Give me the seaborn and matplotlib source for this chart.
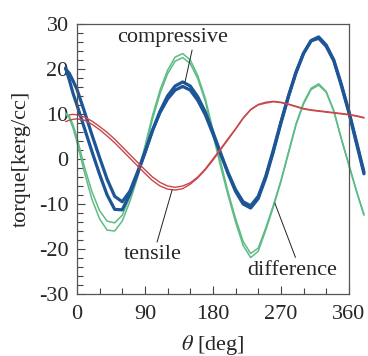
import matplotlib
matplotlib.use("Agg")
import matplotlib.pyplot as plt
import numpy as np
import pandas as pd
import seaborn as sns
from matplotlib.ticker import MultipleLocator

# angle grid [deg]
theta = [-15, -10, -5, 0, 10, 20, 30, 40, 50, 60, 70, 80, 90, 100, 110, 120,
         130, 140, 150, 160, 170, 180, 190, 200, 210, 220, 230, 240, 250, 260,
         270, 280, 290, 300, 310, 320, 330, 340, 350, 360, 370, 380]

# compressive (two scans)
compressive_a = [20.0, 19.0, 17.3, 15.5, 10.5, 5.3, 0.3, -4.5, -8.3, -9.5, -7.2,
                 -3.0, 1.5, 6.3, 10.3, 13.3, 15.3, 16.1, 15.3, 13.0, 9.8, 5.6,
                 1.2, -3.0, -6.8, -9.5, -10.4, -8.3, -3.8, 2.0, 8.2, 14.0, 19.3,
                 23.5, 26.2, 26.8, 25.0, 21.8, 16.3, 10.3, 3.5, -3.3]
compressive_b = [20.2, 17.5, 14.5, 12.0, 6.8, 1.6, -3.4, -8.0, -11.2, -11.3, -7.8,
                 -3.4, 1.3, 6.3, 10.6, 14.0, 16.2, 17.1, 16.2, 13.8, 10.4, 6.0,
                 1.4, -3.2, -7.2, -10.0, -10.9, -8.8, -4.2, 1.6, 7.9, 13.8, 19.1,
                 23.4, 26.3, 27.1, 25.3, 22.0, 16.6, 10.6, 3.9, -2.9]

# difference (two scans)
difference_a = [10.2, 9.5, 7.5, 4.8, -1.8, -7.3, -11.5, -13.8, -14.2, -12.5, -8.5,
                -3.5, 2.8, 9.6, 15.3, 19.7, 22.6, 23.4, 22.0, 18.5, 13.4, 6.5,
                -0.5, -7.3, -13.2, -18.3, -21.0, -19.8, -15.3, -10.3, -4.8, 1.5,
                7.8, 12.5, 15.7, 16.7, 15.0, 10.8, 4.6, -1.2, -7.0, -12.3]
difference_b = [10.0, 9.0, 6.8, 3.8, -3.0, -9.0, -13.3, -15.8, -16.0, -13.8, -9.5,
                -4.3, 2.0, 8.8, 14.5, 18.9, 21.7, 22.5, 21.2, 17.8, 12.8, 5.5,
                -1.5, -8.0, -14.0, -19.2, -21.9, -20.5, -15.8, -10.7, -5.1, 1.2,
                7.5, 12.2, 15.4, 16.4, 14.8, 10.6, 4.4, -1.4, -7.2, -12.5]

# tensile (two scans)
tensile_a = [np.nan, 9.8, 9.9, 9.8, 9.3, 8.4, 7.2, 5.9, 4.4, 2.7, 1.0, -0.7, -2.4,
             -4.0, -5.2, -6.0, -6.3, -6.0, -5.3, -4.0, -2.2, 0.0, 2.2, 4.5, 6.7,
             9.1, 11.0, 12.1, 12.6, 12.8, 12.6, 12.2, 11.7, 11.2, 10.9, 10.7,
             10.5, 10.3, 10.1, 9.9, 9.6, 9.2]
tensile_b = [8.3, 8.6, 8.8, 8.9, 8.6, 7.7, 6.5, 5.1, 3.6, 1.9, 0.2, -1.5, -3.2,
             -4.8, -6.0, -6.7, -6.9, -6.6, -5.6, -4.2, -2.4, -0.3, 2.0, 4.3, 6.6,
             9.0, 10.9, 12.0, 12.4, 12.7, 12.5, 12.1, 11.6, 11.1, 10.8, 10.6,
             10.4, 10.2, 10.0, 9.8, 9.5, 9.1]

x_ticks = [0, 90, 180, 270, 360]
y_ticks = [-30, -20, -10, 0, 10, 20, 30]

BLUE = "#1d5597"
GREEN = "#5dbb85"
RED = "#c8474a"

sns.set_style("ticks")
plt.rcParams["font.family"] = ["Liberation Serif", "DejaVu Serif"]
plt.rcParams["mathtext.fontset"] = "stix"
plt.rcParams["axes.unicode_minus"] = False

fig = plt.figure(figsize=(3.68, 3.56), dpi=100)
ax = fig.add_axes([0.209, 0.174, 0.739, 0.759])

df = pd.DataFrame({
    "theta": theta,
    "comp_a": compressive_a, "comp_b": compressive_b,
    "diff_a": difference_a, "diff_b": difference_b,
    "ten_a": tensile_a, "ten_b": tensile_b,
})

styles = [
    ("diff_a", GREEN, 1.1), ("diff_b", GREEN, 1.1),
    ("comp_a", BLUE, 2.3), ("comp_b", BLUE, 2.3),
    ("ten_a", RED, 1.0), ("ten_b", RED, 1.0),
]
for col, color, lw in styles:
    sns.lineplot(data=df, x="theta", y=col, color=color, lw=lw, ax=ax)
    ax.lines[-1].set_clip_on(False)

ax.set_xlim(0, 360)
ax.set_ylim(-30, 30)
ax.set_xticks(x_ticks)
ax.set_yticks(y_ticks)
ax.xaxis.set_minor_locator(MultipleLocator(30))
ax.yaxis.set_minor_locator(MultipleLocator(2))
ax.tick_params(which="both", direction="in", color="#444444", labelsize=16)
ax.tick_params(which="major", length=6, width=0.8)
ax.tick_params(which="minor", length=4, width=0.8)
ax.tick_params(axis="x", which="major", pad=8)
ax.tick_params(axis="y", which="major", pad=6)
for side in ["left", "right", "top", "bottom"]:
    ax.spines[side].set_visible(True)
    ax.spines[side].set_color("#555555")
    ax.spines[side].set_linewidth(0.9)

ax.set_xlabel(r"$\theta$ [deg]", fontsize=16, labelpad=6)
ax.set_ylabel("torque[kerg/cc]", fontsize=16, labelpad=6)

# labels with pointer lines
ax.annotate("compressive", xy=(143, 17.0), xytext=(127, 27.0),
            ha="center", va="center", fontsize=16,
            arrowprops=dict(arrowstyle="-", color="#222222", lw=0.7,
                            shrinkA=0, shrinkB=0, relpos=(0.68, 0.0)))
ax.annotate("tensile", xy=(126, -6.9), xytext=(101, -21.3),
            ha="center", va="center", fontsize=16,
            arrowprops=dict(arrowstyle="-", color="#222222", lw=0.7,
                            shrinkA=0, shrinkB=0, relpos=(0.55, 1.0)))
ax.annotate("difference", xy=(262, -9.8), xytext=(285, -24.7),
            ha="center", va="center", fontsize=16,
            arrowprops=dict(arrowstyle="-", color="#222222", lw=0.7,
                            shrinkA=0, shrinkB=0, relpos=(0.55, 1.0)))

fig.savefig("out.png", dpi=100)
